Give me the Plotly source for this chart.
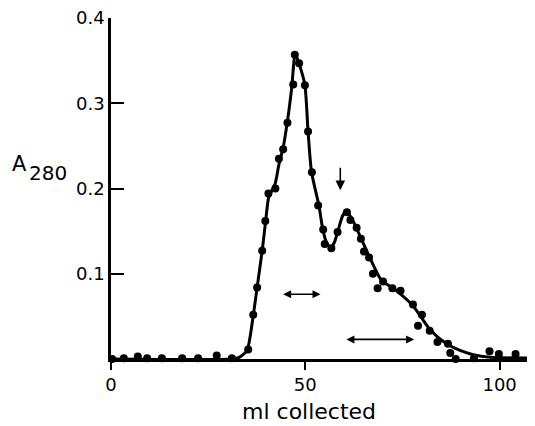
import plotly.graph_objects as go

# Measured fractions (ml collected, A280)
pts_ml = [0.3, 3.3, 6.9, 9.3, 13.1, 18.3, 22.4, 27.2, 31.1, 35.3, 36.6, 37.6, 38.9,
          39.7, 40.5, 42.3, 43.2, 44.3, 45.4, 46.9, 47.3, 48.4, 49.9, 50.7, 51.7,
          53.3, 54.6, 55.0, 56.7, 58.3, 60.7, 61.6, 63.2, 64.3, 65.1, 66.4, 67.4,
          68.6, 70.0, 72.4, 74.5, 77.7, 79.0, 80.0, 82.0, 84.0, 86.7, 87.3, 88.7,
          93.4, 97.4, 99.8, 104.1, 108.6]
pts_a280 = [0.0, 0.001, 0.003, 0.001, 0.001, 0.001, 0.001, 0.004, 0.001, 0.011, 0.052,
            0.084, 0.127, 0.162, 0.194, 0.200, 0.235, 0.246, 0.277, 0.322, 0.357,
            0.347, 0.321, 0.267, 0.219, 0.180, 0.152, 0.135, 0.130, 0.149, 0.172,
            0.163, 0.154, 0.141, 0.126, 0.119, 0.100, 0.083, 0.091, 0.083, 0.080,
            0.064, 0.039, 0.052, 0.033, 0.020, 0.018, 0.007, 0.0, 0.001, 0.009,
            0.006, 0.006, 0.002]

# Hand-drawn smooth curve
curve_ml = [0, 31, 33, 35, 36.6, 37.6, 38.9, 39.8, 40.6, 42.2, 43.2, 44.3, 45.4, 46.5,
            47.4, 48.5, 49.9, 50.7, 51.6, 53.5, 54.5, 55.5, 56.5, 57.5, 58.5, 59.6,
            60.6, 61.5, 62.5, 64.5, 66.7, 69.5, 73.5, 77.8, 81.5, 84.0, 86.4, 89.8,
            93.2, 97.6, 109.1]
curve_a280 = [0, 0, 0.002, 0.01, 0.051, 0.084, 0.127, 0.162, 0.190, 0.205, 0.228, 0.248,
              0.279, 0.318, 0.358, 0.345, 0.321, 0.267, 0.219, 0.180, 0.152, 0.136,
              0.131, 0.137, 0.152, 0.168, 0.174, 0.168, 0.160, 0.140, 0.118, 0.093,
              0.080, 0.062, 0.038, 0.026, 0.018, 0.010, 0.005, 0.002, 0.001]

x_ticks = [0, 50, 100]
x_tick_labels = ["0", "50", "100"]
y_ticks = [0.1, 0.2, 0.3, 0.4]
y_tick_labels = ["0.1", "0.2", "0.3", "0.4"]

# Arrows: (x_start, y_start, x_end, y_end)
down_arrow = (59.0, 0.226, 59.0, 0.198)
range_arrows = [(43.9, 0.076, 53.9, 0.076), (60.2, 0.023, 78.0, 0.023)]

FONT = "DejaVu Sans"

fig = go.Figure()
fig.add_trace(go.Scatter(x=curve_ml, y=curve_a280, mode="lines",
                         line=dict(color="black", width=3, shape="spline", smoothing=0.6),
                         cliponaxis=False, hoverinfo="skip"))
fig.add_trace(go.Scatter(x=pts_ml, y=pts_a280, mode="markers",
                         marker=dict(color="black", size=8),
                         cliponaxis=False))

annotations = []
annotations.append(dict(x=down_arrow[2], y=down_arrow[3], ax=down_arrow[0], ay=down_arrow[1],
                        xref="x", yref="y", axref="x", ayref="y", text="", showarrow=True,
                        arrowhead=2, arrowsize=1.2, arrowwidth=1.6, arrowcolor="black"))
for (x0, y0, x1, y1) in range_arrows:
    annotations.append(dict(x=x1, y=y1, ax=x0, ay=y0, xref="x", yref="y", axref="x", ayref="y",
                            text="", showarrow=True, arrowhead=2, startarrowhead=2,
                            arrowside="end+start", arrowsize=1.0, startarrowsize=1.0,
                            arrowwidth=1.6, arrowcolor="black"))
# axis labels (paper coords relative to plot area: left 111px, width 424; bottom 359px, height 341)
annotations.append(dict(x=(19 - 111) / 424, y=(359 - 164) / 341, xref="paper", yref="paper",
                        text="A", showarrow=False, font=dict(family=FONT, size=21, color="black"),
                        xanchor="center", yanchor="middle"))
annotations.append(dict(x=(48 - 111) / 424, y=(359 - 173) / 341, xref="paper", yref="paper",
                        text="280", showarrow=False, font=dict(family=FONT, size=20, color="black"),
                        xanchor="center", yanchor="middle"))
annotations.append(dict(x=(309 - 111) / 424, y=(359 - 411) / 341, xref="paper", yref="paper",
                        text="ml collected", showarrow=False,
                        font=dict(family=FONT, size=22, color="black"),
                        xanchor="center", yanchor="middle"))

# page body has an 8px margin, so the figure is drawn 8px smaller with shifted margins
fig.update_layout(
    width=527, height=418,
    margin=dict(l=103, r=0, t=10, b=67, pad=0),
    paper_bgcolor="white", plot_bgcolor="white",
    showlegend=False,
    font=dict(family=FONT, size=18, color="black"),
    annotations=annotations,
    xaxis=dict(range=[0, 109.1], showgrid=False, zeroline=False, showline=True,
               linecolor="black", linewidth=2.5, ticks="outside", ticklen=8, tickwidth=2,
               tickcolor="black", tickvals=x_ticks, ticktext=x_tick_labels,
               ticklabeloverflow="allow",
               tickfont=dict(family=FONT, size=18, color="black")),
    yaxis=dict(range=[0, 0.4], showgrid=False, zeroline=False, showline=True,
               linecolor="black", linewidth=2.5, ticks="inside", ticklen=13, tickwidth=2,
               tickcolor="black", tickvals=y_ticks, ticktext=y_tick_labels,
               ticklabeloverflow="allow",
               tickfont=dict(family=FONT, size=18, color="black")),
)

fig.write_html("out.html")
